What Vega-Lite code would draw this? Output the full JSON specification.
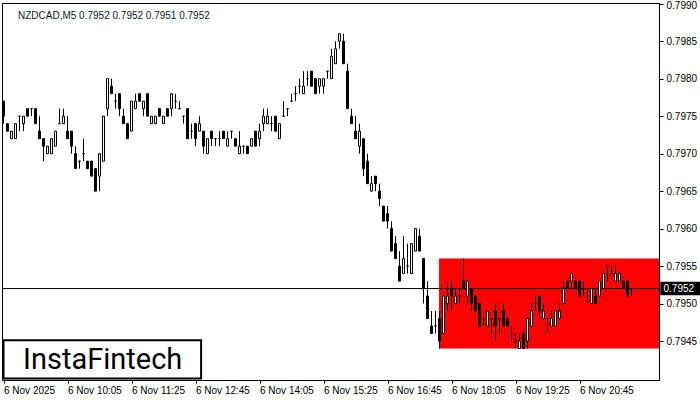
{
  "$schema": "https://vega.github.io/schema/vega-lite/v6.json",
  "width": 657,
  "height": 377,
  "autosize": {"type": "none"},
  "padding": {"left": 2, "top": 3, "right": 41, "bottom": 20},
  "background": "white",
  "view": {"stroke": "black", "strokeWidth": 1, "fill": "white"},
  "config": {
    "font": "Liberation Sans",
    "axis": {"labelFont": "Liberation Sans", "labelFontSize": 10, "labelColor": "black", "domainColor": "black", "tickColor": "black", "grid": false, "title": null}
  },
  "title": {"text": "NZDCAD,M5  0.7952 0.7952 0.7951 0.7952", "anchor": "start", "frame": "group", "orient": "top", "offset": -20, "dx": 16, "fontSize": 10, "font": "Liberation Sans", "fontWeight": "normal", "color": "#101828"},
  "data": {"format": {"parse": {"t": "utc:'%H:%M'"}}, "values": [
      {"t": "08:45", "o": 0.7977, "h": 0.7977, "l": 0.7974, "c": 0.7975},
      {"t": "08:50", "o": 0.7974, "h": 0.7974, "l": 0.7973, "c": 0.7973},
      {"t": "08:55", "o": 0.7972, "h": 0.7973, "l": 0.7972, "c": 0.7973},
      {"t": "09:00", "o": 0.7972, "h": 0.7974, "l": 0.7972, "c": 0.7974},
      {"t": "09:05", "o": 0.7975, "h": 0.7975, "l": 0.7973, "c": 0.7975},
      {"t": "09:10", "o": 0.7974, "h": 0.7975, "l": 0.7973, "c": 0.7975},
      {"t": "09:15", "o": 0.7976, "h": 0.7976, "l": 0.7975, "c": 0.7975},
      {"t": "09:20", "o": 0.7976, "h": 0.7976, "l": 0.7975, "c": 0.7976},
      {"t": "09:25", "o": 0.7976, "h": 0.7976, "l": 0.7974, "c": 0.7974},
      {"t": "09:30", "o": 0.7973, "h": 0.7975, "l": 0.7972, "c": 0.7972},
      {"t": "09:35", "o": 0.7972, "h": 0.7972, "l": 0.7969, "c": 0.7971},
      {"t": "09:40", "o": 0.7970, "h": 0.7971, "l": 0.7970, "c": 0.7971},
      {"t": "09:45", "o": 0.7970, "h": 0.7972, "l": 0.7970, "c": 0.7972},
      {"t": "09:50", "o": 0.7971, "h": 0.7973, "l": 0.7971, "c": 0.7973},
      {"t": "09:55", "o": 0.7974, "h": 0.7976, "l": 0.7974, "c": 0.7974},
      {"t": "10:00", "o": 0.7974, "h": 0.7976, "l": 0.7974, "c": 0.7975},
      {"t": "10:05", "o": 0.7973, "h": 0.7975, "l": 0.7972, "c": 0.7972},
      {"t": "10:10", "o": 0.7973, "h": 0.7973, "l": 0.7970, "c": 0.7971},
      {"t": "10:15", "o": 0.7970, "h": 0.7971, "l": 0.7968, "c": 0.7968},
      {"t": "10:20", "o": 0.7969, "h": 0.7969, "l": 0.7968, "c": 0.7969},
      {"t": "10:25", "o": 0.7970, "h": 0.7972, "l": 0.7969, "c": 0.7970},
      {"t": "10:30", "o": 0.7969, "h": 0.7969, "l": 0.7968, "c": 0.7968},
      {"t": "10:35", "o": 0.7969, "h": 0.7969, "l": 0.7967, "c": 0.7967},
      {"t": "10:40", "o": 0.7968, "h": 0.7968, "l": 0.7965, "c": 0.7965},
      {"t": "10:45", "o": 0.7967, "h": 0.7970, "l": 0.7965, "c": 0.7970},
      {"t": "10:50", "o": 0.7969, "h": 0.7975, "l": 0.7969, "c": 0.7975},
      {"t": "10:55", "o": 0.7976, "h": 0.7980, "l": 0.7975, "c": 0.7980},
      {"t": "11:00", "o": 0.7979, "h": 0.7980, "l": 0.7978, "c": 0.7978},
      {"t": "11:05", "o": 0.7977, "h": 0.7978, "l": 0.7976, "c": 0.7977},
      {"t": "11:10", "o": 0.7978, "h": 0.7978, "l": 0.7975, "c": 0.7976},
      {"t": "11:15", "o": 0.7975, "h": 0.7976, "l": 0.7974, "c": 0.7974},
      {"t": "11:20", "o": 0.7974, "h": 0.7974, "l": 0.7972, "c": 0.7972},
      {"t": "11:25", "o": 0.7973, "h": 0.7977, "l": 0.7973, "c": 0.7977},
      {"t": "11:30", "o": 0.7976, "h": 0.7978, "l": 0.7976, "c": 0.7977},
      {"t": "11:35", "o": 0.7978, "h": 0.7978, "l": 0.7977, "c": 0.7977},
      {"t": "11:40", "o": 0.7976, "h": 0.7977, "l": 0.7975, "c": 0.7977},
      {"t": "11:45", "o": 0.7978, "h": 0.7978, "l": 0.7975, "c": 0.7975},
      {"t": "11:50", "o": 0.7974, "h": 0.7975, "l": 0.7974, "c": 0.7975},
      {"t": "11:55", "o": 0.7974, "h": 0.7975, "l": 0.7974, "c": 0.7975},
      {"t": "12:00", "o": 0.7976, "h": 0.7976, "l": 0.7975, "c": 0.7975},
      {"t": "12:05", "o": 0.7974, "h": 0.7975, "l": 0.7974, "c": 0.7975},
      {"t": "12:10", "o": 0.7976, "h": 0.7976, "l": 0.7975, "c": 0.7975},
      {"t": "12:15", "o": 0.7976, "h": 0.7978, "l": 0.7975, "c": 0.7978},
      {"t": "12:20", "o": 0.7977, "h": 0.7978, "l": 0.7976, "c": 0.7977},
      {"t": "12:25", "o": 0.7976, "h": 0.7977, "l": 0.7976, "c": 0.7976},
      {"t": "12:30", "o": 0.7975, "h": 0.7975, "l": 0.7974, "c": 0.7975},
      {"t": "12:35", "o": 0.7976, "h": 0.7976, "l": 0.7972, "c": 0.7972},
      {"t": "12:40", "o": 0.7973, "h": 0.7974, "l": 0.7972, "c": 0.7973},
      {"t": "12:45", "o": 0.7974, "h": 0.7974, "l": 0.7971, "c": 0.7972},
      {"t": "12:50", "o": 0.7973, "h": 0.7975, "l": 0.7973, "c": 0.7974},
      {"t": "12:55", "o": 0.7973, "h": 0.7973, "l": 0.7970, "c": 0.7971},
      {"t": "13:00", "o": 0.7970, "h": 0.7972, "l": 0.7970, "c": 0.7972},
      {"t": "13:05", "o": 0.7973, "h": 0.7973, "l": 0.7971, "c": 0.7972},
      {"t": "13:10", "o": 0.7972, "h": 0.7972, "l": 0.7971, "c": 0.7972},
      {"t": "13:15", "o": 0.7972, "h": 0.7973, "l": 0.7971, "c": 0.7972},
      {"t": "13:20", "o": 0.7973, "h": 0.7973, "l": 0.7972, "c": 0.7972},
      {"t": "13:25", "o": 0.7971, "h": 0.7973, "l": 0.7971, "c": 0.7972},
      {"t": "13:30", "o": 0.7973, "h": 0.7973, "l": 0.7972, "c": 0.7973},
      {"t": "13:35", "o": 0.7972, "h": 0.7972, "l": 0.7971, "c": 0.7971},
      {"t": "13:40", "o": 0.7970, "h": 0.7973, "l": 0.7970, "c": 0.7971},
      {"t": "13:45", "o": 0.7971, "h": 0.7971, "l": 0.7970, "c": 0.7971},
      {"t": "13:50", "o": 0.7971, "h": 0.7971, "l": 0.7970, "c": 0.7970},
      {"t": "13:55", "o": 0.7971, "h": 0.7972, "l": 0.7971, "c": 0.7972},
      {"t": "14:00", "o": 0.7973, "h": 0.7973, "l": 0.7971, "c": 0.7971},
      {"t": "14:05", "o": 0.7972, "h": 0.7974, "l": 0.7971, "c": 0.7973},
      {"t": "14:10", "o": 0.7974, "h": 0.7976, "l": 0.7973, "c": 0.7975},
      {"t": "14:15", "o": 0.7974, "h": 0.7976, "l": 0.7974, "c": 0.7975},
      {"t": "14:20", "o": 0.7974, "h": 0.7975, "l": 0.7973, "c": 0.7974},
      {"t": "14:25", "o": 0.7975, "h": 0.7975, "l": 0.7973, "c": 0.7973},
      {"t": "14:30", "o": 0.7972, "h": 0.7974, "l": 0.7972, "c": 0.7974},
      {"t": "14:35", "o": 0.7975, "h": 0.7977, "l": 0.7975, "c": 0.7975},
      {"t": "14:40", "o": 0.7976, "h": 0.7976, "l": 0.7975, "c": 0.7976},
      {"t": "14:45", "o": 0.7977, "h": 0.7978, "l": 0.7977, "c": 0.7977},
      {"t": "14:50", "o": 0.7978, "h": 0.7979, "l": 0.7977, "c": 0.7978},
      {"t": "14:55", "o": 0.7979, "h": 0.7980, "l": 0.7978, "c": 0.7979},
      {"t": "15:00", "o": 0.7978, "h": 0.7981, "l": 0.7978, "c": 0.7979},
      {"t": "15:05", "o": 0.7980, "h": 0.7981, "l": 0.7979, "c": 0.7980},
      {"t": "15:10", "o": 0.7981, "h": 0.7981, "l": 0.7979, "c": 0.7979},
      {"t": "15:15", "o": 0.7980, "h": 0.7980, "l": 0.7978, "c": 0.7978},
      {"t": "15:20", "o": 0.7979, "h": 0.7980, "l": 0.7978, "c": 0.7980},
      {"t": "15:25", "o": 0.7979, "h": 0.7980, "l": 0.7978, "c": 0.7980},
      {"t": "15:30", "o": 0.7981, "h": 0.7981, "l": 0.7980, "c": 0.7981},
      {"t": "15:35", "o": 0.7980, "h": 0.7984, "l": 0.7980, "c": 0.7983},
      {"t": "15:40", "o": 0.7982, "h": 0.7985, "l": 0.7982, "c": 0.7984},
      {"t": "15:45", "o": 0.7985, "h": 0.7986, "l": 0.7984, "c": 0.7986},
      {"t": "15:50", "o": 0.7985, "h": 0.7986, "l": 0.7982, "c": 0.7982},
      {"t": "15:55", "o": 0.7981, "h": 0.7982, "l": 0.7976, "c": 0.7976},
      {"t": "16:00", "o": 0.7975, "h": 0.7976, "l": 0.7974, "c": 0.7974},
      {"t": "16:05", "o": 0.7973, "h": 0.7975, "l": 0.7972, "c": 0.7972},
      {"t": "16:10", "o": 0.7971, "h": 0.7974, "l": 0.7970, "c": 0.7973},
      {"t": "16:15", "o": 0.7972, "h": 0.7972, "l": 0.7967, "c": 0.7968},
      {"t": "16:20", "o": 0.7969, "h": 0.7970, "l": 0.7966, "c": 0.7966},
      {"t": "16:25", "o": 0.7965, "h": 0.7967, "l": 0.7965, "c": 0.7966},
      {"t": "16:30", "o": 0.7967, "h": 0.7967, "l": 0.7965, "c": 0.7966},
      {"t": "16:35", "o": 0.7965, "h": 0.7966, "l": 0.7963, "c": 0.7964},
      {"t": "16:40", "o": 0.7963, "h": 0.7963, "l": 0.7961, "c": 0.7961},
      {"t": "16:45", "o": 0.7962, "h": 0.7963, "l": 0.7960, "c": 0.7961},
      {"t": "16:50", "o": 0.7960, "h": 0.7961, "l": 0.7957, "c": 0.7957},
      {"t": "16:55", "o": 0.7958, "h": 0.7959, "l": 0.7956, "c": 0.7956},
      {"t": "17:00", "o": 0.7955, "h": 0.7957, "l": 0.7953, "c": 0.7953},
      {"t": "17:05", "o": 0.7954, "h": 0.7959, "l": 0.7954, "c": 0.7956},
      {"t": "17:10", "o": 0.7955, "h": 0.7958, "l": 0.7954, "c": 0.7955},
      {"t": "17:15", "o": 0.7954, "h": 0.7958, "l": 0.7954, "c": 0.7958},
      {"t": "17:20", "o": 0.7957, "h": 0.7960, "l": 0.7957, "c": 0.7960},
      {"t": "17:25", "o": 0.7959, "h": 0.7960, "l": 0.7957, "c": 0.7957},
      {"t": "17:30", "o": 0.7956, "h": 0.7956, "l": 0.7950, "c": 0.7952},
      {"t": "17:35", "o": 0.7951, "h": 0.7953, "l": 0.7948, "c": 0.7948},
      {"t": "17:40", "o": 0.7947, "h": 0.7949, "l": 0.7946, "c": 0.7946},
      {"t": "17:45", "o": 0.7947, "h": 0.7949, "l": 0.7946, "c": 0.7947},
      {"t": "17:50", "o": 0.7948, "h": 0.7949, "l": 0.7944, "c": 0.7945},
      {"t": "17:55", "o": 0.7946, "h": 0.7951, "l": 0.7946, "c": 0.7951},
      {"t": "18:00", "o": 0.7950, "h": 0.7953, "l": 0.7949, "c": 0.7951},
      {"t": "18:05", "o": 0.7952, "h": 0.7953, "l": 0.7949, "c": 0.7951},
      {"t": "18:10", "o": 0.7950, "h": 0.7952, "l": 0.7950, "c": 0.7951},
      {"t": "18:15", "o": 0.7951, "h": 0.7952, "l": 0.7950, "c": 0.7951},
      {"t": "18:20", "o": 0.7953, "h": 0.7956, "l": 0.7952, "c": 0.7952},
      {"t": "18:25", "o": 0.7951, "h": 0.7953, "l": 0.7950, "c": 0.7953},
      {"t": "18:30", "o": 0.7952, "h": 0.7952, "l": 0.7949, "c": 0.7950},
      {"t": "18:35", "o": 0.7951, "h": 0.7951, "l": 0.7949, "c": 0.7949},
      {"t": "18:40", "o": 0.7950, "h": 0.7950, "l": 0.7947, "c": 0.7947},
      {"t": "18:45", "o": 0.7948, "h": 0.7948, "l": 0.7947, "c": 0.7948},
      {"t": "18:50", "o": 0.7947, "h": 0.7949, "l": 0.7947, "c": 0.7949},
      {"t": "18:55", "o": 0.7948, "h": 0.7948, "l": 0.7946, "c": 0.7948},
      {"t": "19:00", "o": 0.7949, "h": 0.7950, "l": 0.7945, "c": 0.7947},
      {"t": "19:05", "o": 0.7948, "h": 0.7948, "l": 0.7946, "c": 0.7948},
      {"t": "19:10", "o": 0.7949, "h": 0.7950, "l": 0.7947, "c": 0.7947},
      {"t": "19:15", "o": 0.7948, "h": 0.7948, "l": 0.7947, "c": 0.7947},
      {"t": "19:20", "o": 0.7946, "h": 0.7947, "l": 0.7945, "c": 0.7946},
      {"t": "19:25", "o": 0.7945, "h": 0.7946, "l": 0.7944, "c": 0.7945},
      {"t": "19:30", "o": 0.7944, "h": 0.7946, "l": 0.7944, "c": 0.7945},
      {"t": "19:35", "o": 0.7946, "h": 0.7946, "l": 0.7944, "c": 0.7944},
      {"t": "19:40", "o": 0.7945, "h": 0.7948, "l": 0.7944, "c": 0.7948},
      {"t": "19:45", "o": 0.7947, "h": 0.7950, "l": 0.7947, "c": 0.7949},
      {"t": "19:50", "o": 0.7950, "h": 0.7951, "l": 0.7949, "c": 0.7950},
      {"t": "19:55", "o": 0.7951, "h": 0.7951, "l": 0.7948, "c": 0.7949},
      {"t": "20:00", "o": 0.7948, "h": 0.7950, "l": 0.7948, "c": 0.7949},
      {"t": "20:05", "o": 0.7948, "h": 0.7948, "l": 0.7946, "c": 0.7948},
      {"t": "20:10", "o": 0.7947, "h": 0.7949, "l": 0.7947, "c": 0.7948},
      {"t": "20:15", "o": 0.7947, "h": 0.7949, "l": 0.7947, "c": 0.7949},
      {"t": "20:20", "o": 0.7948, "h": 0.7950, "l": 0.7948, "c": 0.7949},
      {"t": "20:25", "o": 0.7950, "h": 0.7953, "l": 0.7950, "c": 0.7952},
      {"t": "20:30", "o": 0.7953, "h": 0.7953, "l": 0.7952, "c": 0.7952},
      {"t": "20:35", "o": 0.7953, "h": 0.7954, "l": 0.7952, "c": 0.7954},
      {"t": "20:40", "o": 0.7953, "h": 0.7953, "l": 0.7952, "c": 0.7952},
      {"t": "20:45", "o": 0.7953, "h": 0.7953, "l": 0.7951, "c": 0.7951},
      {"t": "20:50", "o": 0.7952, "h": 0.7953, "l": 0.7951, "c": 0.7952},
      {"t": "20:55", "o": 0.7951, "h": 0.7952, "l": 0.7950, "c": 0.7951},
      {"t": "21:00", "o": 0.7950, "h": 0.7952, "l": 0.7950, "c": 0.7952},
      {"t": "21:05", "o": 0.7951, "h": 0.7952, "l": 0.7950, "c": 0.7950},
      {"t": "21:10", "o": 0.7951, "h": 0.7953, "l": 0.7951, "c": 0.7953},
      {"t": "21:15", "o": 0.7952, "h": 0.7954, "l": 0.7952, "c": 0.7954},
      {"t": "21:20", "o": 0.7955, "h": 0.7955, "l": 0.7953, "c": 0.7955},
      {"t": "21:25", "o": 0.7954, "h": 0.7955, "l": 0.7954, "c": 0.7954},
      {"t": "21:30", "o": 0.7953, "h": 0.7955, "l": 0.7953, "c": 0.7954},
      {"t": "21:35", "o": 0.7953, "h": 0.7954, "l": 0.7953, "c": 0.7954},
      {"t": "21:40", "o": 0.7953, "h": 0.7953, "l": 0.7952, "c": 0.7952},
      {"t": "21:45", "o": 0.7953, "h": 0.7953, "l": 0.7951, "c": 0.7951},
      {"t": "21:50", "o": 0.7952, "h": 0.7952, "l": 0.7951, "c": 0.7952}
  ]},
  "layer": [
    {
      "data": {"values": [{"t1": "17:49:26", "t2": "22:24:22", "y1": 0.7944, "y2": 0.7956}], "format": {"parse": {"t1": "utc:'%H:%M:%S'", "t2": "utc:'%H:%M:%S'"}}},
      "mark": {"type": "rect", "color": "#ff0000"},
      "encoding": {
        "x": {"field": "t1", "type": "temporal", "title": null,
          "scale": {"type": "utc", "padding": 0, "domain": [{"year": 1900, "month": 1, "date": 1, "hours": 8, "minutes": 43, "seconds": 7, "milliseconds": 500, "utc": true}, {"year": 1900, "month": 1, "date": 1, "hours": 22, "minutes": 24, "seconds": 22, "milliseconds": 500, "utc": true}]},
          "axis": {"orient": "bottom", "tickSize": 3, "labelAlign": "left", "labelPadding": 2, "labelFlush": false, "labelOverlap": false, "labelBaseline": "top",
            "values": [
              {"year": 1900, "month": 1, "date": 1, "hours": 8, "minutes": 45, "utc": true},
              {"year": 1900, "month": 1, "date": 1, "hours": 10, "minutes": 5, "utc": true},
              {"year": 1900, "month": 1, "date": 1, "hours": 11, "minutes": 25, "utc": true},
              {"year": 1900, "month": 1, "date": 1, "hours": 12, "minutes": 45, "utc": true},
              {"year": 1900, "month": 1, "date": 1, "hours": 14, "minutes": 5, "utc": true},
              {"year": 1900, "month": 1, "date": 1, "hours": 15, "minutes": 25, "utc": true},
              {"year": 1900, "month": 1, "date": 1, "hours": 16, "minutes": 45, "utc": true},
              {"year": 1900, "month": 1, "date": 1, "hours": 18, "minutes": 5, "utc": true},
              {"year": 1900, "month": 1, "date": 1, "hours": 19, "minutes": 25, "utc": true},
              {"year": 1900, "month": 1, "date": 1, "hours": 20, "minutes": 45, "utc": true}
            ],
            "labelExpr": "utcFormat(datum.value, '%H:%M') == '08:45' ? '6 Nov 2025' : '6 Nov ' + utcFormat(datum.value, '%H:%M')"}},
        "x2": {"field": "t2"},
        "y": {"field": "y1", "type": "quantitative", "title": null,
          "scale": {"domain": [0.79398, 0.79901], "nice": false, "zero": false, "padding": 0},
          "axis": {"orient": "right", "tickSize": 4, "labelPadding": 3, "format": ".4f", "labelBaseline": "middle",
            "labelOffset": {"condition": {"test": "datum.value > 0.79895", "value": 2}, "value": 0},
            "values": [0.7945, 0.795, 0.7955, 0.796, 0.7965, 0.797, 0.7975, 0.798, 0.7985, 0.799]}},
        "y2": {"field": "y2"}
      }
    },
    {
      "data": {"values": [{"p": 0.7952}]},
      "mark": {"type": "rule", "color": "black", "strokeWidth": 1},
      "encoding": {"y": {"field": "p", "type": "quantitative", "title": null}}
    },
    {
      "mark": {"type": "rule", "color": "black", "strokeWidth": 1},
      "encoding": {
        "x": {"field": "t", "type": "temporal", "title": null},
        "y": {"field": "l", "type": "quantitative", "title": null},
        "y2": {"field": "h"}
      }
    },
    {
      "mark": {"type": "bar", "width": 2, "stroke": "black", "strokeWidth": 1},
      "encoding": {
        "x": {"field": "t", "type": "temporal", "title": null},
        "y": {"field": "o", "type": "quantitative", "title": null},
        "y2": {"field": "c"},
        "fill": {"condition": {"test": "datum.c > datum.o", "value": "white"}, "value": "black"}
      }
    },
    {
      "data": {"values": [{"t1": "08:45", "t2": "12:52", "y1": 0.79400, "y2": 0.79451}], "format": {"parse": {"t1": "utc:'%H:%M'", "t2": "utc:'%H:%M'"}}},
      "mark": {"type": "rect", "fill": "white", "stroke": "black", "strokeWidth": 2},
      "encoding": {"x": {"field": "t1", "type": "temporal", "title": null}, "x2": {"field": "t2"}, "y": {"field": "y1", "type": "quantitative", "title": null}, "y2": {"field": "y2"}}
    },
    {
      "data": {"values": [{"t": "10:49", "p": 0.79425, "label": "InstaFintech"}], "format": {"parse": {"t": "utc:'%H:%M'"}}},
      "mark": {"type": "text", "font": "Roboto", "fontSize": 29, "fontWeight": 400, "align": "center", "baseline": "middle", "color": "black"},
      "encoding": {"x": {"field": "t", "type": "temporal", "title": null}, "y": {"field": "p", "type": "quantitative", "title": null}, "text": {"field": "label"}}
    },
    {
      "data": {"values": [{"t1": "22:26", "t2": "23:16", "y1": 0.79511, "y2": 0.79529}], "format": {"parse": {"t1": "utc:'%H:%M'", "t2": "utc:'%H:%M'"}}},
      "mark": {"type": "rect", "fill": "black"},
      "encoding": {"x": {"field": "t1", "type": "temporal", "title": null}, "x2": {"field": "t2"}, "y": {"field": "y1", "type": "quantitative", "title": null}, "y2": {"field": "y2"}}
    },
    {
      "data": {"values": [{"t": "22:30", "p": 0.7952, "label": "0.7952"}], "format": {"parse": {"t": "utc:'%H:%M'"}}},
      "mark": {"type": "text", "font": "Liberation Sans", "fontSize": 10, "align": "left", "baseline": "middle", "color": "white"},
      "encoding": {"x": {"field": "t", "type": "temporal", "title": null}, "y": {"field": "p", "type": "quantitative", "title": null}, "text": {"field": "label"}}
    }
  ]
}
